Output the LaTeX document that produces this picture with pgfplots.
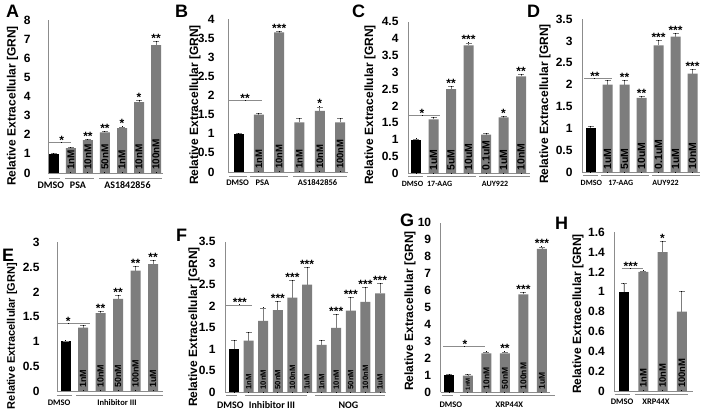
\documentclass[border=0pt]{standalone}
\usepackage{fontspec}
\setmainfont{Liberation Sans}
\newfontfamily\carlito{Carlito}
\usepackage{pgfplots}
\usepackage{pgfplotstable}
\pgfplotsset{compat=1.18}
\definecolor{bargray}{RGB}{125,125,125}
\definecolor{axgray}{RGB}{140,140,140}

\pgfplotstableread{
x y err lab star
0 1.00 0.02 {} {}
1 1.30 0.05 1nM {}
2 1.72 0.05 10nM **
3 2.12 0.07 50nM **
4 2.35 0.06 1nM *
5 3.70 0.08 10nM *
6 6.68 0.20 100nM **
}\tA
\pgfplotstableread{
x y err lab star
0 1.00 0.01 {} {}
1 1.50 0.02 1nM {}
2 3.65 0.02 10nM ***
3 1.30 0.10 1nM {}
4 1.60 0.10 10nM *
5 1.30 0.10 100nM {}
}\tB
\pgfplotstableread{
x y err lab star
0 1.00 0.02 {} {}
1 1.60 0.05 1uM {}
2 2.50 0.07 5uM **
3 3.80 0.07 10uM ***
4 1.15 0.02 0.1uM {}
5 1.66 0.02 1uM *
6 2.88 0.05 10nM **
}\tC
\pgfplotstableread{
x y err lab star
0 1.00 0.04 {} {}
1 2.00 0.10 1uM {}
2 2.00 0.10 5uM **
3 1.70 0.04 10uM **
4 2.90 0.10 0.1uM ***
5 3.10 0.07 1uM ***
6 2.25 0.10 10nM ***
}\tD
\pgfplotstableread{
x y err lab star
0 1.00 0.01 {} {}
1 1.28 0.04 1nM {}
2 1.57 0.04 10nM **
3 1.86 0.06 50nM **
4 2.43 0.08 100nM **
5 2.56 0.08 1uM **
}\tE
\pgfplotstableread{
x y err lab star
0 1.00 0.20 {} {}
1 1.20 0.20 1nM {}
2 1.66 0.30 10nM {}
3 1.91 0.20 50nM ***
4 2.20 0.40 100nM ***
5 2.50 0.40 1uM ***
6 1.10 0.10 1nM {}
7 1.50 0.30 10nM ***
8 1.90 0.30 50nM ***
9 2.10 0.33 100nM ***
10 2.30 0.22 1uM ***
}\tF
\pgfplotstableread{
x y err lab star
0 1.00 0.05 {} {}
1 0.98 0.05 {} {}
2 2.30 0.08 10nM {}
3 2.30 0.08 50nM **
4 5.78 0.12 100nM ***
5 8.45 0.12 1uM ***
}\tG
\pgfplotstableread{
x y err lab star
0 1.00 0.08 {} {}
1 1.20 0.01 1nM {}
2 1.40 0.11 10nM *
3 0.80 0.20 100nM {}
}\tH

\pgfplotsset{
 panel/.style={scale only axis, clip=false, anchor=south west,
  axis x line=bottom, axis y line=left,
  axis line style={draw=axgray, line width=0.7pt, -},
  xtick=\empty, ymin=0, major tick length=0pt,
  yticklabel style={font=\fontsize{12}{12}\bfseries\selectfont, xshift=-6pt},
  /pgf/number format/assume math mode=true},
 errs/.style={error bars/y dir=plus, error bars/y explicit,
  error bars/error bar style={draw=bargray, line width=0.8pt},
  error bars/error mark options={rotate=90, mark size=3pt, draw=bargray, line width=0.8pt}},
 gbar/.style={ybar, bar shift=0pt, fill=bargray, draw=none, restrict x to domain=0.5:100, errs},
 kbar/.style={ybar, bar shift=0pt, fill=black, draw=none, restrict x to domain=-0.5:0.5, errs},
 nomark/.style={only marks, mark=*, mark size=0pt, mark options={draw=none,fill=none,line width=0pt}},
 starlab/.style={nomark, nodes near coords,
  point meta=explicit symbolic,
  every node near coord/.append style={anchor=base, font=\fontsize{12}{12}\bfseries\selectfont, inner sep=0pt, yshift=-1pt, text=black}},
 inlab/.style={nomark, nodes near coords,
  point meta=explicit symbolic,
  every node near coord/.append style={rotate=90, anchor=west, inner xsep=3pt, inner ysep=0pt, text=black}},
 sig/.style={draw=axgray, line width=0.8pt, mark=none},
}

\newcommand{\bars}[2]{%
 \addplot[kbar] table[x=x,y=y,y error=err]{#1};
 \addplot[gbar] table[x=x,y=y,y error=err]{#1};
 \addplot[starlab] table[x=x,y expr=\thisrow{y}+\thisrow{err},meta=star]{#1};
 \addplot[inlab, every node near coord/.append style={font=\fontsize{#2}{#2}\bfseries\selectfont}] table[x=x,y expr=0,meta=lab]{#1};
}
\newcommand{\gfont}{}
\newcommand{\grp}[6]{%
 \draw[axgray, line width=0.8pt] ([yshift=#1pt]axis cs:#3,0) -- ([yshift=#1pt]axis cs:#4,0);
 \node[font=\gfont, inner sep=0pt] at ([yshift=#2pt]axis cs:#5,0) {#6};
}
\newcommand{\bracket}[5]{%
 \addplot[sig] coordinates {(#1,#3) (#2,#3)};
 \addplot[starlab, every node near coord/.append style={yshift=-1pt}] coordinates {(#4,#3)[#5]};
}
\newcommand{\ylab}[3][12]{\node[rotate=90, font=\fontsize{#1}{#1}\bfseries\selectfont] at (#2pt,#3pt) {Relative Extracellular [GRN]};}
\newcommand{\plet}[3]{\node[anchor=base west, inner sep=0pt, font=\fontsize{18}{18}\bfseries\selectfont] at (#1pt,#2pt) {#3};}

\begin{document}
\begin{tikzpicture}
\path[use as bounding box] (0pt,0pt) rectangle (702pt,411pt);
\fill[white] (0pt,0pt) rectangle (702pt,411pt);

% ---------- A
\renewcommand{\gfont}{\carlito\bfseries\fontsize{10}{10}\selectfont}
\begin{axis}[panel, at={(48pt,238pt)}, width=115pt, height=153pt,
  xmin=-0.35, xmax=6.41, ymax=8, ytick={0,1,...,8},
  yticklabel style={xshift=-8pt}]
 \bars{\tA}{10}
 \bracket{-0.28}{0.98}{1.6}{0.45}{*}
 \grp{-5}{-12}{-0.29}{0.35}{-0.18}{DMSO}
 \grp{-5}{-12}{0.65}{2.35}{1.41}{PSA}
 \grp{-5}{-12}{2.65}{6.35}{4.32}{AS1842856}
\end{axis}
\ylab{12.5}{305}
\plet{6}{393}{A}

% ---------- B
\renewcommand{\gfont}{\carlito\bfseries\fontsize{8.5}{8.5}\selectfont}
\begin{axis}[panel, at={(228pt,239pt)}, width=120pt, height=153pt,
  xmin=-0.52, xmax=5.39, ymax=4, ytick={0,0.5,...,4},
  yticklabel style={xshift=-4pt}]
 \bars{\tB}{9.5}
 \bracket{-0.47}{1.16}{1.88}{0.32}{**}
 \grp{-4}{-11}{-0.47}{0.42}{-0.05}{DMSO}
 \grp{-4}{-11}{0.57}{2.44}{1.18}{PSA}
 \grp{-4}{-11}{2.68}{5.34}{3.89}{AS1842856}
\end{axis}
\ylab{195}{306}
\plet{175}{393}{B}

% ---------- C
\renewcommand{\gfont}{\carlito\bfseries\fontsize{8}{8}\selectfont}
\begin{axis}[panel, at={(408pt,237.7pt)}, width=122pt, height=151.6pt,
  xmin=-0.46, xmax=6.51, ymax=4.5, ytick={0,0.5,...,4.5}]
 \bars{\tC}{10.5}
 \bracket{-0.4}{1.37}{1.73}{0.34}{*}
 \grp{-3.5}{-11}{-0.46}{0.4}{-0.2}{DMSO}
 \grp{-3.5}{-11}{0.63}{3.43}{1.35}{17-AAG}
 \grp{-3.5}{-11}{3.6}{6.5}{4.51}{AUY922}
\end{axis}
\ylab{370}{306}
\plet{352}{393}{C}

% ---------- D
\renewcommand{\gfont}{\carlito\bfseries\fontsize{8}{8}\selectfont}
\begin{axis}[panel, at={(582pt,238.7pt)}, width=118.2pt, height=153.3pt,
  xmin=-0.5, xmax=6.45, ymax=3.5, ytick={0,0.5,...,3.5}]
 \bars{\tD}{10.5}
 \bracket{-0.38}{1.26}{2.15}{0.26}{**}
 \grp{-3.5}{-11}{-0.44}{0.44}{0.05}{DMSO}
 \grp{-3.5}{-11}{0.62}{3.44}{1.78}{17-AAG}
 \grp{-3.5}{-11}{3.62}{6.44}{4.41}{AUY922}
\end{axis}
\ylab{545}{307}
\plet{527}{393}{D}

% ---------- E
\renewcommand{\gfont}{\carlito\bfseries\fontsize{8.5}{8.5}\selectfont}
\begin{axis}[panel, at={(57pt,20pt)}, width=106pt, height=148.7pt,
  xmin=-0.49, xmax=5.57, ymax=3, ytick={0,0.5,...,3},
  yticklabel style={xshift=-8pt}]
 \bars{\tE}{9}
 \bracket{-0.49}{1.4}{1.37}{0.15}{*}
 \grp{-4}{-12}{-0.49}{0.37}{-0.37}{DMSO}
 \grp{-4}{-12}{0.6}{5.57}{2.94}{Inhibitor III}
\end{axis}
\ylab[11]{12}{75}
\plet{2}{149}{E}

% ---------- F
\renewcommand{\gfont}{\carlito\bfseries\fontsize{10}{10}\selectfont}
\begin{axis}[panel, at={(225pt,18.7pt)}, width=161pt, height=150.6pt,
  xmin=-0.62, xmax=10.41, ymax=3.5, ytick={0,0.5,...,3.5}]
 \bars{\tF}{7.7}
 \bracket{-0.55}{1.21}{2.03}{0.4}{***}
 \grp{-3.5}{-12.5}{-0.55}{0.2}{-0.25}{DMSO}
 \grp{-3.5}{-12.5}{0.75}{5.0}{2.6}{Inhibitor III}
 \grp{-3.5}{-12.5}{5.55}{10.34}{7.84}{NOG}
\end{axis}
\ylab{194}{84}
\plet{176}{169}{F}

% ---------- G
\renewcommand{\gfont}{\carlito\bfseries\fontsize{8.5}{8.5}\selectfont}
\begin{axis}[panel, at={(440.7pt,18.7pt)}, width=109.2pt, height=169.6pt,
  xmin=-0.47, xmax=5.43, ymax=10, ytick={0,1,...,10}]
 \bars{\tG}{8.5}
 \addplot[inlab, every node near coord/.append style={font=\fontsize{6}{6}\bfseries\selectfont, inner xsep=2pt}] coordinates {(1,0)[1nM]};
 \bracket{-0.34}{1.92}{2.69}{0.84}{*}
 \grp{-3.5}{-12.5}{-0.4}{0.19}{0.08}{DMSO}
 \grp{-3.5}{-12.5}{0.57}{5.7}{3.24}{XRP44X}
\end{axis}
\ylab{410}{100}
\plet{400}{184}{G}

% ---------- H
\renewcommand{\gfont}{\carlito\bfseries\fontsize{8.5}{8.5}\selectfont}
\begin{axis}[panel, at={(614.3pt,20pt)}, width=78.4pt, height=158.7pt,
  xmin=-0.5, xmax=3.56, ymax=1.6, ytick={0,0.2,0.4,0.6,0.8,1,1.2,1.4,1.6}]
 \bars{\tH}{9.5}
 \bracket{-0.12}{0.97}{1.24}{0.35}{***}
 \grp{-3}{-10.7}{-0.47}{0.31}{-0.1}{DMSO}
 \grp{-3}{-10.7}{0.57}{3.32}{1.66}{XRP44X}
\end{axis}
\ylab{578}{97}
\plet{555}{181}{H}
\end{tikzpicture}
\end{document}
